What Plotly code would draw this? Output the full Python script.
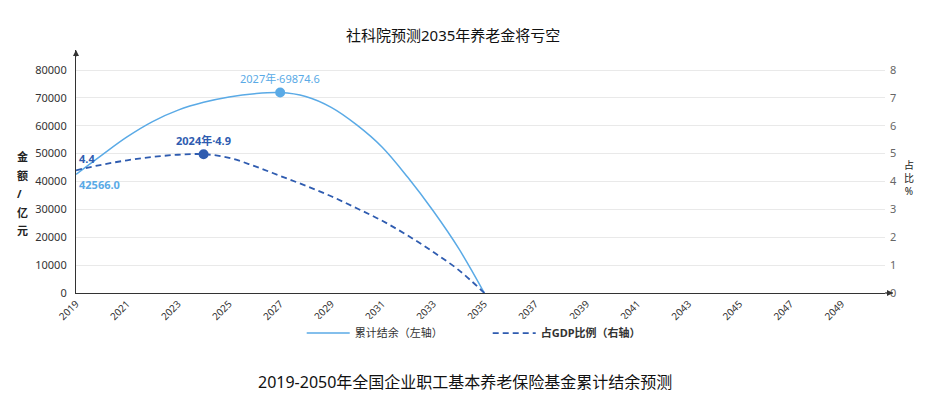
import plotly.graph_objects as go

# 数据
years = list(range(2019, 2036))
balance = [42566, 49400, 56000, 61500, 65600, 68400, 70300, 71500, 71900,
           70500, 66600, 60300, 52300, 41500, 29400, 15900, 0]
gdp_ratio = [4.4, 4.6, 4.76, 4.88, 4.96, 4.98, 4.85, 4.55, 4.2,
             3.85, 3.47, 3.04, 2.59, 2.06, 1.47, 0.82, 0]
x_ticks = list(range(2019, 2050, 2))
left_ticks = list(range(0, 80001, 10000))
right_ticks = list(range(0, 9))
left_title = ["金", "额", "/", "亿", "元"]

LIGHT = "#5aaae6"
DARK = "#2f5cb0"
FONT = "Noto Sans, Noto Sans CJK SC"

fig = go.Figure()

fig.add_trace(go.Scatter(
    x=years, y=balance, name="累计结余（左轴）", mode="lines",
    line=dict(color=LIGHT, width=1.5, shape="spline"), yaxis="y"))
fig.add_trace(go.Scatter(
    x=years, y=gdp_ratio, name="<b>占GDP比例（右轴）</b>", mode="lines",
    line=dict(color=DARK, width=1.8, dash="6px,4px", shape="spline"), yaxis="y2"))

# 标记点
peak_i = balance.index(max(balance))
ratio_i = gdp_ratio.index(max(gdp_ratio))
fig.add_trace(go.Scatter(x=[years[peak_i]], y=[balance[peak_i]], mode="markers",
                         marker=dict(color=LIGHT, size=10), showlegend=False, yaxis="y"))
fig.add_trace(go.Scatter(x=[years[ratio_i]], y=[gdp_ratio[ratio_i]], mode="markers",
                         marker=dict(color=DARK, size=10), showlegend=False, yaxis="y2"))

ann = [
    dict(x=years[peak_i], y=balance[peak_i], xref="x", yref="y", text="2027年·69874.6",
         showarrow=False, yshift=14, font=dict(color=LIGHT, size=11)),
    dict(x=years[ratio_i], y=gdp_ratio[ratio_i], xref="x", yref="y2", text="<b>2024年·4.9</b>",
         showarrow=False, yshift=14, font=dict(color=DARK, size=11)),
    dict(x=years[0], y=gdp_ratio[0], xref="x", yref="y2", text="<b>4.4</b>", xanchor="left",
         showarrow=False, xshift=1, yshift=12, font=dict(color=DARK, size=11)),
    dict(x=years[0], y=balance[0], xref="x", yref="y", text="<b>42566.0</b>", xanchor="left",
         showarrow=False, xshift=1, yshift=-10, font=dict(color=LIGHT, size=11)),
    # 右轴标题
    dict(x=1.038, y=0.473, xref="paper", yref="paper", yanchor="middle", text="占<br>比<br>%",
         showarrow=False, font=dict(size=10, color="#222"), align="center"),
    # 标题
    dict(x=0.466, y=1.062, xref="paper", yref="paper", yanchor="middle",
         text="社科院预测2035年养老金将亏空",
         showarrow=False, font=dict(size=15, color="#111")),
    dict(x=0.481, y=-0.366, xref="paper", yref="paper", yanchor="middle",
         text="2019-2050年全国企业职工基本养老保险基金累计结余预测",
         showarrow=False, font=dict(size=16, color="#111")),
    # 轴箭头
    dict(x=1.0099, y=0, xref="paper", yref="paper", ax=-8, ay=0, text="", showarrow=True,
         arrowhead=2, arrowsize=1, arrowwidth=1.2, arrowcolor="#333"),
    dict(x=0, y=1, xref="paper", yref="paper", ax=0, ay=8, text="", showarrow=True,
         arrowhead=2, arrowsize=1, arrowwidth=1.2, arrowcolor="#333"),
]

# 左轴标题逐字竖排
for i, ch in enumerate(left_title):
    ann.append(dict(x=-0.076, y=0.56, xref="paper", yref="paper", yanchor="middle",
                    yshift=-18.5 * i, text="<b>" + ch + "</b>", showarrow=False,
                    font=dict(size=11, color="#222")))

fig.update_layout(
    width=927, height=413,
    margin=dict(l=76, r=42, t=50, b=120, autoexpand=False),
    paper_bgcolor="white", plot_bgcolor="white",
    font=dict(family=FONT, size=11, color="#333"),
    annotations=ann,
    shapes=[dict(type="line", xref="paper", yref="paper", x0=1, x1=1.0099, y0=0, y1=0,
                 line=dict(color="#333", width=1.2))],
    showlegend=True,
    legend=dict(orientation="h", x=0.279, xanchor="left", y=-0.165, yanchor="middle",
                font=dict(size=11, color="#333"), itemwidth=43, entrywidth=128),
    xaxis=dict(type="linear", range=[2019, 2050.7], tickmode="array", tickvals=x_ticks,
               ticktext=[str(t) for t in x_ticks], tickangle=-45, showgrid=False,
               zeroline=False, showline=True, linecolor="#333", linewidth=1.2,
               ticks="", automargin=False, tickfont=dict(size=10, color="#333")),
    yaxis=dict(range=[0, 87175], tickvals=left_ticks, tickformat="d", showgrid=True,
               gridcolor="#e9e9e9", zeroline=False, showline=True, linecolor="#333",
               linewidth=1.2, ticks="", automargin=False, ticklabelstandoff=6,
               tickfont=dict(size=11, color="#333")),
    yaxis2=dict(range=[0, 8.7175], tickvals=right_ticks, overlaying="y", side="right",
                showgrid=False, zeroline=False, showline=False, ticks="", automargin=False,
                ticklabelstandoff=4, tickfont=dict(size=11, color="#666")),
)

# 页面默认的 body 边距会把图表挤偏 8px
fig.write_html("out.html", config={"displayModeBar": False},
               post_script="document.body.style.margin='0';")
